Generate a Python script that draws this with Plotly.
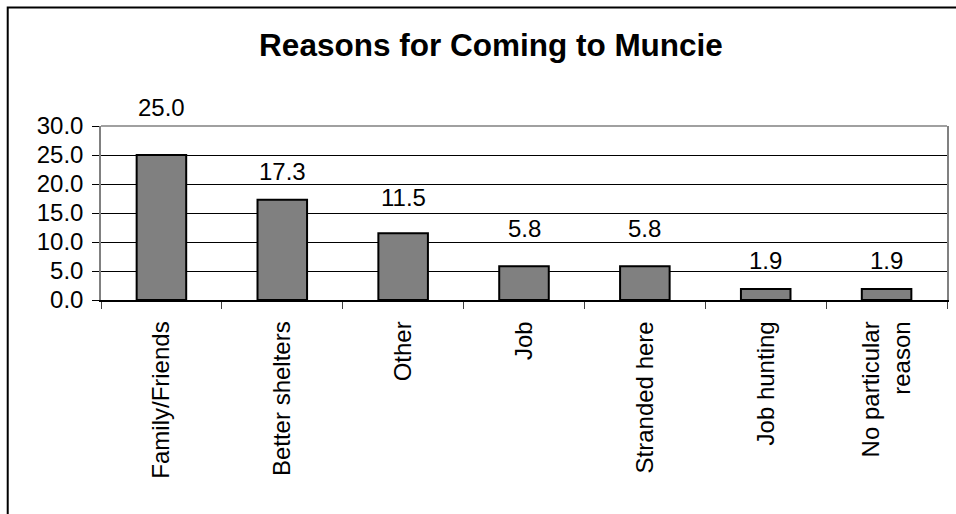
import plotly.graph_objects as go

# ---- data ----
categories = ["Family/Friends", "Better shelters", "Other", "Job",
              "Stranded here", "Job hunting", "No particular<br>reason"]
values = [25.0, 17.3, 11.5, 5.8, 5.8, 1.9, 1.9]
y_ticks = [0, 5, 10, 15, 20, 25, 30]
title_text = "Reasons for Coming to Muncie"

# label lift above each bar top (px), as placed in the original chart
label_lift_px = [48, 28, 36, 38, 38, 28, 28]

FONT = "Arial, Liberation Sans, sans-serif"
W, H = 956, 514
L, R, T, B = 101, 7, 126, 214

fig = go.Figure()
fig.add_trace(go.Bar(
    x=categories, y=values,
    marker=dict(color="#808080", line=dict(color="black", width=2)),
    width=0.41,
    hoverinfo="x+y",
))

for c, v, lift in zip(categories, values, label_lift_px):
    fig.add_annotation(x=c, y=v, text=f"{v:.1f}", showarrow=False,
                       yshift=lift, yanchor="middle", xanchor="center",
                       font=dict(family=FONT, size=24, color="black"))

plot_w = W - L - R
plot_h = H - T - B

# outer chart frame (left and top visible, extends beyond right/bottom)
fig.add_shape(type="rect", xref="paper", yref="paper",
              x0=(7.5 - L) / plot_w, x1=(W + 20 - L) / plot_w,
              y0=-(B + 20) / plot_h, y1=(H - B - 7.5) / plot_h,
              line=dict(color="black", width=2), fillcolor="rgba(0,0,0,0)",
              layer="above")
# grey top border of plot area
fig.add_shape(type="line", xref="paper", yref="paper", x0=0, x1=1, y0=1, y1=1,
              line=dict(color="#808080", width=1.5), layer="above")

fig.update_layout(
    width=W, height=H,
    margin=dict(l=L, r=R, t=T, b=B, pad=0),
    paper_bgcolor="white", plot_bgcolor="white",
    showlegend=False,
    title=dict(text=f"<b>{title_text}</b>", x=491 / W, xanchor="center",
               y=1 - 45 / H, yanchor="middle", yref="container",
               font=dict(family=FONT, size=31.5, color="black")),
    font=dict(family=FONT, size=24, color="black"),
)
fig.update_yaxes(
    range=[0, 30], tickvals=y_ticks, tickformat=".1f",
    showgrid=True, gridcolor="black", gridwidth=1,
    zeroline=False,
    showline=True, linecolor="#808080", linewidth=1.5, mirror=True,
    ticks="outside", ticklen=7, tickcolor="black", tickwidth=1,
    ticklabelstandoff=4,
    tickfont=dict(family=FONT, size=24, color="black"),
)
fig.update_xaxes(
    type="category", range=[-0.5, 6.5],
    showgrid=False, zeroline=False,
    showline=True, linecolor="black", linewidth=1.5,
    ticks="outside", ticklen=7, tickcolor="#404040", tickwidth=1,
    tickson="boundaries",
    tickangle=-90, ticklabelstandoff=10,
    tickfont=dict(family=FONT, size=24, color="black"),
)

fig.write_html(
    "out.html",
    config={"displayModeBar": False},
    post_script="document.body.style.margin='0';"
                "document.body.style.overflow='hidden';",
)
